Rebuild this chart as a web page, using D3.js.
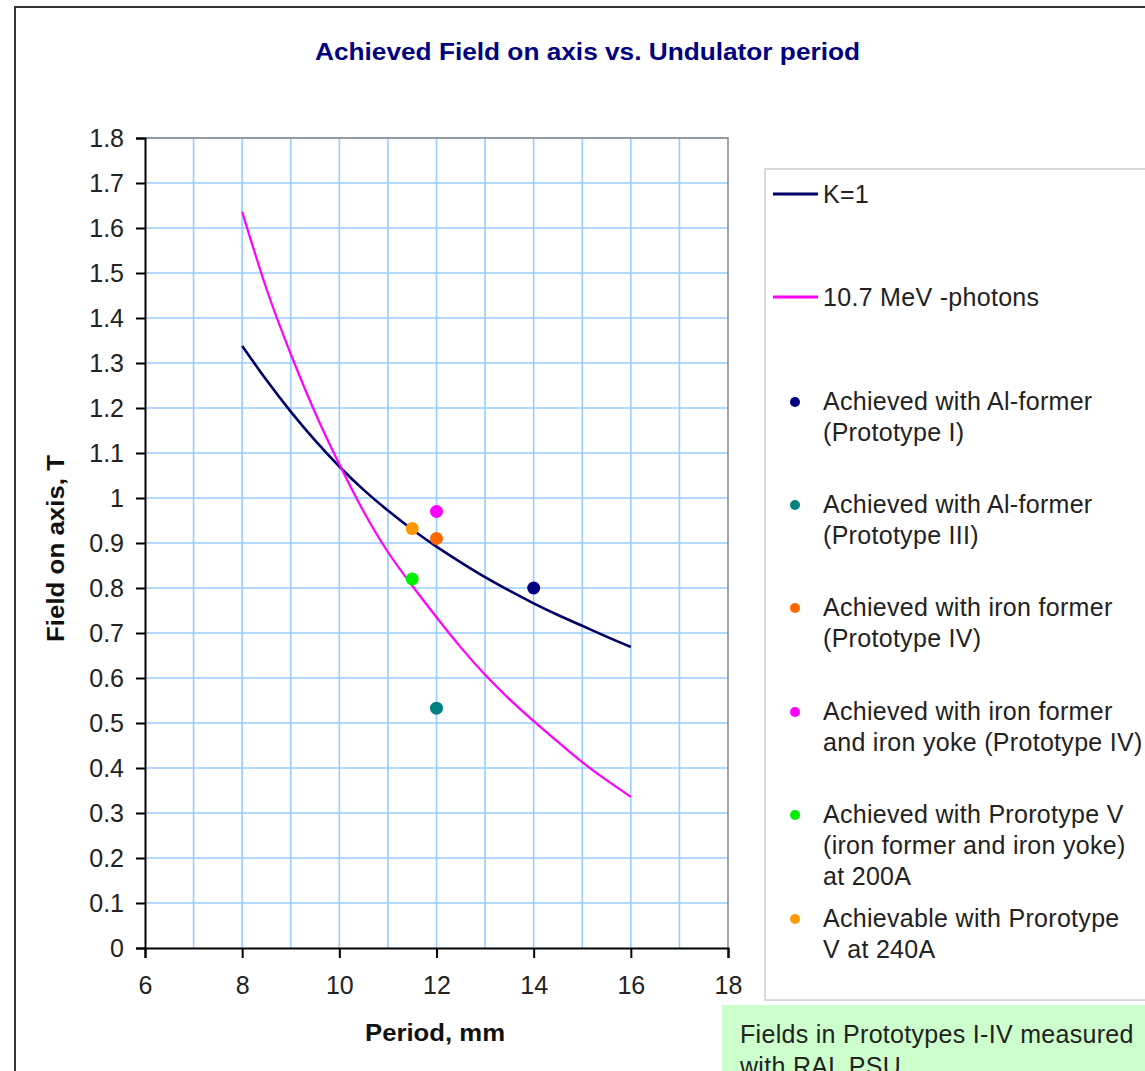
<!DOCTYPE html>
<html lang="en">
<head>
	<meta charset="UTF-8">
	<title>Achieved Field on axis vs. Undulator period</title>

	<script src="https://cdn.jsdelivr.net/npm/d3@7"></script>

	<style>
		body {
			margin: 0;
			background: #fff;
		}

		text {
			font-family: "Liberation Sans", Arial, sans-serif;
		}

		.axis text {
			font-size: 25px;
			fill: #222;
		}

		.grid line {
			stroke: #99ccff;
			stroke-width: 1.6;
		}

		.leg {
			font-size: 25px;
			fill: #222;
			letter-spacing: 0.3px;
		}
	</style>

</head>
<body>

<script type="text/javascript">

	// K=1 curve and 10.7 MeV photon curve
	var periods = [8, 8.5, 9, 9.5, 10, 10.5, 11, 11.5, 12, 12.5, 13, 13.5, 14, 14.5, 15, 15.5, 16];
	var fieldK1 = [1.338, 1.262, 1.192, 1.128, 1.07, 1.018, 0.972, 0.93, 0.892, 0.857, 0.824, 0.794, 0.766, 0.74, 0.716, 0.692, 0.669];
	var fieldPhotons = [1.636, 1.465, 1.32, 1.19, 1.075, 0.97, 0.88, 0.805, 0.735, 0.668, 0.607, 0.553, 0.504, 0.458, 0.413, 0.373, 0.336];

	// measured prototypes
	var pointNames = ['Prototype I', 'Prototype III', 'Prototype IV', 'Prototype IV yoke', 'Prototype V 200A', 'Prototype V 240A'];
	var pointPeriod = [14, 12, 12, 12, 11.5, 11.5];
	var pointField = [0.80, 0.533, 0.91, 0.97, 0.82, 0.932];
	var pointColor = ['#000080', '#008080', '#ff6600', '#ff00ff', '#00ee00', '#ff9900'];

	var xTicks = [6, 8, 10, 12, 14, 16, 18];
	var yTicks = d3.range(0, 19).map(function (d) { return d / 10; });

	var lineLabels = ['K=1', '10.7 MeV -photons'];
	var lineColors = ['#000066', '#ff00ff'];
	var pointLabels = [
		['Achieved with Al-former', '(Prototype I)'],
		['Achieved with Al-former', '(Prototype III)'],
		['Achieved with iron former', '(Prototype IV)'],
		['Achieved with iron former', 'and iron yoke (Prototype IV)'],
		['Achieved with Prorotype V', '(iron former and iron yoke)', 'at 200A'],
		['Achievable with Prorotype', 'V at 240A']
	];

	var W = 1145, H = 1071;
	var plot = {left: 145, right: 728, top: 138, bottom: 948};

	var svg = d3.select('body').append('svg')
		.attr('width', W)
		.attr('height', H);

	// outer chart frame
	svg.append('path')
		.attr('d', 'M15,' + H + 'V7H' + W)
		.attr('fill', 'none')
		.attr('stroke', '#333')
		.attr('stroke-width', 2);

	svg.append('text')
		.attr('x', 315)
		.attr('y', 60)
		.attr('textLength', 545)
		.attr('lengthAdjust', 'spacingAndGlyphs')
		.style('font-size', '23px')
		.style('font-weight', 'bold')
		.style('fill', '#000080')
		.text('Achieved Field on axis vs. Undulator period');

	var x = d3.scaleLinear()
		.domain([6, 18])
		.range([plot.left, plot.right]);

	var y = d3.scaleLinear()
		.domain([0, 1.8])
		.range([plot.bottom, plot.top]);

	// grid
	var grid = svg.append('g').attr('class', 'grid');
	grid.selectAll('.vline')
		.data(d3.range(7, 18))
		.enter().append('line')
		.attr('x1', function (d) { return x(d); })
		.attr('x2', function (d) { return x(d); })
		.attr('y1', plot.top)
		.attr('y2', plot.bottom);
	grid.selectAll('.hline')
		.data(yTicks.slice(1))
		.enter().append('line')
		.attr('x1', plot.left)
		.attr('x2', plot.right)
		.attr('y1', function (d) { return y(d); })
		.attr('y2', function (d) { return y(d); });

	// plot frame top / right
	svg.append('path')
		.attr('d', 'M' + plot.left + ',' + plot.top + 'H' + plot.right + 'V' + plot.bottom)
		.attr('fill', 'none')
		.attr('stroke', '#888')
		.attr('stroke-width', 1.5);

	var axis_x = svg.append('g')
		.attr('class', 'axis axis--x')
		.attr('transform', 'translate(0,' + plot.bottom + ')')
		.call(d3.axisBottom(x).tickValues(xTicks).tickSize(10).tickPadding(18));

	var axis_y = svg.append('g')
		.attr('class', 'axis axis--y')
		.attr('transform', 'translate(' + plot.left + ',0)')
		.call(d3.axisLeft(y).tickValues(yTicks).tickSize(9).tickPadding(12)
			.tickFormat(function (d) { return d3.format('')(+d.toFixed(1)); }));

	svg.selectAll('.axis path, .axis line')
		.attr('stroke', '#000')
		.attr('stroke-width', 2);

	svg.append('text')
		.attr('transform', 'translate(64,642) rotate(-90)')
		.attr('textLength', 187)
		.attr('lengthAdjust', 'spacingAndGlyphs')
		.style('font-size', '23px')
		.style('font-weight', 'bold')
		.style('fill', '#111')
		.text('Field on axis, T');

	svg.append('text')
		.attr('x', 365)
		.attr('y', 1041)
		.attr('textLength', 140)
		.attr('lengthAdjust', 'spacingAndGlyphs')
		.style('font-size', '23px')
		.style('font-weight', 'bold')
		.style('fill', '#111')
		.text('Period, mm');

	// curves
	var series = [fieldK1, fieldPhotons];
	var line = d3.line()
		.x(function (d, i) { return x(periods[i]); })
		.y(function (d) { return y(d); })
		.curve(d3.curveNatural);

	svg.append('g').selectAll('.curve')
		.data(series)
		.enter().append('path')
		.attr('class', 'curve')
		.attr('d', line)
		.attr('fill', 'none')
		.attr('stroke', function (d, i) { return lineColors[i]; })
		.attr('stroke-width', function (d, i) { return i === 0 ? 2.6 : 2.2; });

	svg.append('g').selectAll('.circle')
		.data(pointNames)
		.enter().append('circle')
		.attr('class', 'circle')
		.attr('cx', function (d, i) { return x(pointPeriod[i]); })
		.attr('cy', function (d, i) { return y(pointField[i]); })
		.attr('r', 6.5)
		.style('fill', function (d, i) { return pointColor[i]; });

	// legend
	var legend = svg.append('g');
	legend.append('rect')
		.attr('x', 765)
		.attr('y', 169)
		.attr('width', W + 10 - 765)
		.attr('height', 1000 - 169)
		.attr('fill', '#fff')
		.attr('stroke', '#ccc')
		.attr('stroke-width', 1.5);

	var lineRows = [194, 297];
	lineLabels.forEach(function (lab, i) {
		legend.append('line')
			.attr('x1', 773).attr('x2', 818)
			.attr('y1', lineRows[i]).attr('y2', lineRows[i])
			.attr('stroke', lineColors[i])
			.attr('stroke-width', 3);
		legend.append('text')
			.attr('class', 'leg')
			.attr('x', 823)
			.attr('y', lineRows[i] + 9)
			.text(lab);
	});

	var dotRows = [402, 505, 608, 712, 815, 919];
	pointLabels.forEach(function (rows, i) {
		legend.append('circle')
			.attr('cx', 795)
			.attr('cy', dotRows[i])
			.attr('r', 5)
			.attr('fill', pointColor[i]);
		rows.forEach(function (t, j) {
			legend.append('text')
				.attr('class', 'leg')
				.attr('x', 823)
				.attr('y', dotRows[i] + 8 + j * 31)
				.text(t);
		});
	});

	// note box
	svg.append('rect')
		.attr('x', 722)
		.attr('y', 1005)
		.attr('width', W - 722)
		.attr('height', H - 1005)
		.attr('fill', '#ccffcc');
	svg.append('text')
		.attr('class', 'leg')
		.attr('x', 740)
		.attr('y', 1043)
		.text('Fields in Prototypes I-IV measured');
	svg.append('text')
		.attr('class', 'leg')
		.attr('x', 740)
		.attr('y', 1075)
		.text('with RAL PSU');

</script>

</body>
</html>
